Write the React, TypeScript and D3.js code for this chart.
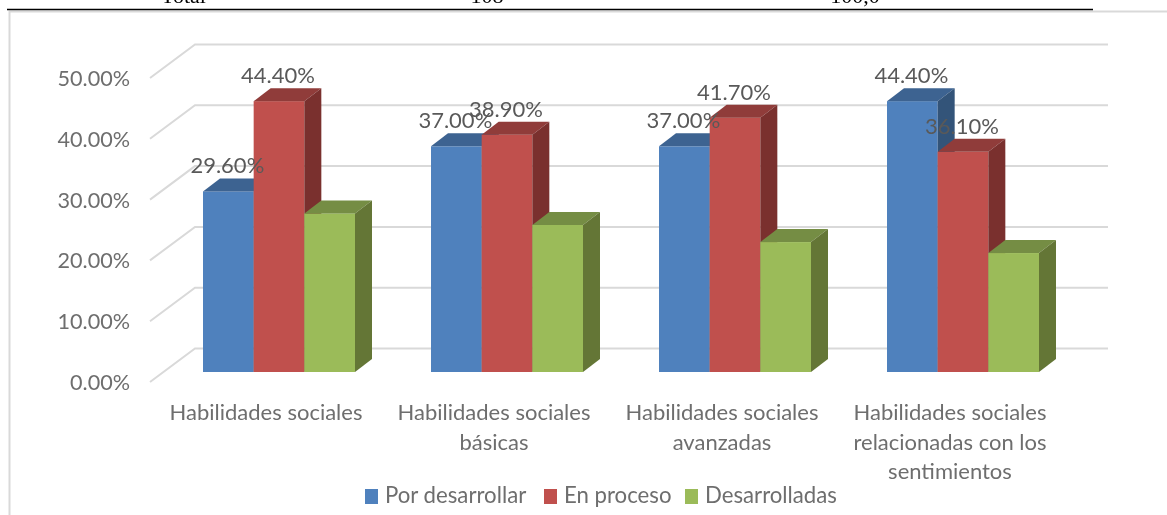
import React from "react";
import * as d3 from "d3";

const categories = [
  ["Habilidades sociales"],
  ["Habilidades sociales", "básicas"],
  ["Habilidades sociales", "avanzadas"],
  ["Habilidades sociales", "relacionadas con los", "sentimientos"],
];
const seriesNames = ["Por desarrollar", "En proceso", "Desarrolladas"];
const porDesarrollar = [29.6, 37.0, 37.0, 44.4];
const enProceso = [44.4, 38.9, 41.7, 36.1];
const desarrolladas = [26.0, 24.1, 21.3, 19.5];
const yTicks = [0, 10, 20, 30, 40, 50];
const labelled = [true, true, false];
const tableCells = ["Total", "108", "100,0"];

const front = ["#4f81bd", "#c0504d", "#9bbb59"];
const top = ["#3d6391", "#903c3a", "#758d44"];
const side = ["#335479", "#7a302e", "#647636"];
const FONT = "Lato, 'Open Sans', sans-serif";

export default function App() {
  const series = [porDesarrollar, enProceso, desarrolladas];
  const y = d3.scaleLinear().domain([0, 50]).range([372, 67]);
  const x0 = d3.scaleBand().domain(["0", "1", "2", "3"]).range([146, 1058]);
  const x1 = d3.scaleBand().domain(["0", "1", "2"]).range([57, 209]);
  const dx = 17;
  const dy = 13;
  const gridY = d3.scaleLinear().domain([0, 50]).range([382, 78]);
  const gx0 = 150;
  const gx1 = 195;
  const gy = 33.5;
  return (
    <svg width={1167} height={515} style={{ position: "absolute", left: 0, top: 0, background: "#fff", filter: "blur(0.45px)" }}>
      {tableCells.map((t, i) => (
        <text key={t} x={[183.5, 487, 855][i]} y={3} fontFamily="'Liberation Serif', serif" fontSize={22} textAnchor="middle" fill="#000">{t}</text>
      ))}

      <path d="M9.5 515V11.5H1167" fill="none" stroke="#d9d9d9" strokeWidth={2} />
      <line x1={7} x2={1093} y1={9.5} y2={9.5} stroke="#000" strokeWidth={1.3} />

      {yTicks.map((t) => (
        <g key={t}>
          <path
            d={`M${gx0} ${gridY(t)}L${gx1} ${gridY(t) - gy}H1108`}
            fill="none"
            stroke="#d9d9d9"
            strokeWidth={2}
          />
          <text x={130} y={gridY(t) + 8} textAnchor="end" fontFamily={FONT} fontSize={21.6} fill="#6e6e6e">
            {d3.format(".2f")(t)}%
          </text>
        </g>
      ))}

      {categories.map((_, c) => {
        const gxStart = x0(String(c))!;
        return (
          <g key={c}>
            {series.map((vals, s) => {
              const v = vals[c];
              const left = gxStart + x1(String(s))!;
              const w = x1.bandwidth();
              const yt = y(v);
              const yb = y(0);
              return (
                <g key={s}>
                  <rect x={left} y={yt} width={w} height={yb - yt} fill={front[s]} />
                  <path d={`M${left} ${yt}l${dx} ${-dy}h${w}l${-dx} ${dy}z`} fill={top[s]} />
                  <path d={`M${left + w} ${yt}l${dx} ${-dy}V${yb - dy}l${-dx} ${dy}z`} fill={side[s]} />
                </g>
              );
            })}
          </g>
        );
      })}

      {categories.map((_, c) =>
        series.map((vals, s) => {
          if (!labelled[s]) return null;
          const left = x0(String(c))! + x1(String(s))!;
          const v = vals[c];
          return (
            <text
              key={`${c}-${s}`}
              x={left + x1.bandwidth() / 2 - 1}
              y={y(v) - 18}
              textAnchor="middle"
              fontFamily={FONT}
              fontSize={22}
              fill="#595959"
            >
              {d3.format(".2f")(v)}%
            </text>
          );
        })
      )}

      {categories.map((lines, c) => (
        <text key={c} textAnchor="middle" fontFamily={FONT} fontSize={22} fill="#6e6e6e">
          {lines.map((l, i) => (
            <tspan key={i} x={x0(String(c))! + x0.bandwidth() / 2 + 6} y={420 + i * 29.5}>{l}</tspan>
          ))}
        </text>
      ))}

      {seriesNames.map((n, i) => {
        const lx = [365, 544, 685][i];
        return (
          <g key={n}>
            <rect x={lx} y={489} width={13} height={15} fill={front[i]} />
            <text x={lx + 20} y={503} fontFamily={FONT} fontSize={22.2} fill="#6e6e6e">{n}</text>
          </g>
        );
      })}
    </svg>
  );
}
